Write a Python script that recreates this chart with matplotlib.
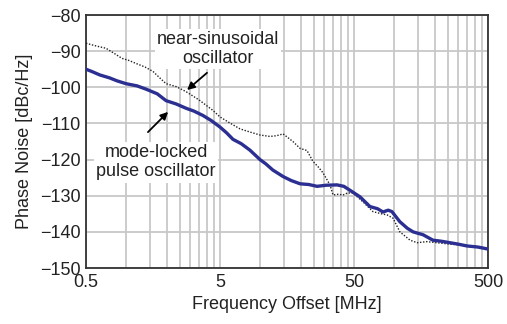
import matplotlib
matplotlib.use("Agg")
import matplotlib.pyplot as plt
from matplotlib.ticker import FixedLocator, NullFormatter

plt.rcParams['font.family'] = ['Liberation Sans', 'DejaVu Sans']

# mode-locked pulse oscillator (blue trace)
pulse_f = [0.5, 0.55, 0.636, 0.75, 0.85, 0.994, 1.2, 1.40, 1.7, 1.98, 2.35,
           2.79, 3.2, 3.73, 4.3, 5.0, 5.6, 6.25, 7.2, 8.37, 9.94, 11.0, 12.4,
           14.8, 17.0, 19.8, 23.0, 26.5, 31.0, 37.3, 42.0, 46.7, 55.4, 65.8,
           75.0, 82.3, 90.0, 96, 110, 125, 138, 164, 194, 225, 260, 300, 349,
           420, 491]
pulse_pn = [-95.0, -95.6, -96.6, -97.4, -98.2, -99.0, -99.6, -100.5, -101.8,
            -103.7, -104.6, -105.8, -106.6, -107.8, -109.2, -111.0, -112.6,
            -114.4, -115.6, -117.4, -120.0, -121.2, -122.9, -124.7, -125.8,
            -126.7, -126.9, -127.4, -127.1, -127.0, -127.4, -128.5, -130.3,
            -133.0, -133.6, -134.5, -134.0, -134.4, -137.2, -139.0, -140.0,
            -140.8, -142.3, -142.6, -143.0, -143.4, -143.9, -144.2, -144.7]

# near-sinusoidal oscillator (black dotted trace)
sine_f = [0.5, 0.6, 0.705, 0.81, 0.928, 1.05, 1.18, 1.38, 1.58, 1.80, 1.98,
          2.35, 2.79, 3.49, 4.43, 5.0, 6.0, 7.05, 8.4, 9.94, 11.8, 13.2, 14.8,
          17.5, 19.8, 22.3, 24.7, 27.0, 29.4, 33.1, 34.9, 38.0, 41.4, 45.0,
          49.2, 58.4, 69.3, 80.0, 88.2, 97.7, 110, 131, 148, 175, 219, 260,
          309, 400, 491]
sine_pn = [-87.8, -88.6, -89.2, -90.6, -92.0, -92.6, -93.4, -94.4, -95.6,
           -97.6, -99.0, -99.8, -101.2, -103.5, -106.4, -108.2, -110.0,
           -111.5, -112.4, -113.2, -113.6, -113.4, -112.9, -115.0, -116.9,
           -117.5, -120.5, -122.0, -123.7, -127.0, -129.8, -129.6, -129.8,
           -129.2, -129.3, -131.7, -134.4, -135.0, -135.3, -136.2, -140.0,
           -142.3, -143.0, -142.7, -143.1, -143.4, -143.6, -144.0, -144.5]

x_major = [0.5, 5, 50, 500]
x_labels = ['0.5', '5', '50', '500']
y_ticks = [-150, -140, -130, -120, -110, -100, -90, -80]

fig = plt.figure(figsize=(5.07, 3.24), dpi=100)
ax = fig.add_axes([0.1696, 0.1728, 0.7929, 0.7809])

ax.plot(sine_f, sine_pn, color='#222222', lw=1.0, ls=(0, (1, 1.2)), zorder=3)
ax.plot(pulse_f, pulse_pn, color='#2b2f91', lw=2.4, zorder=4)

ax.set_xscale('log')
ax.set_xlim(0.5, 500)
ax.set_ylim(-150, -80)
ax.xaxis.set_major_locator(FixedLocator(x_major))
ax.set_xticklabels(x_labels)
minors = [0.5 * k * d for d in (1, 10, 100) for k in range(2, 10)]
ax.xaxis.set_minor_locator(FixedLocator(minors))
ax.xaxis.set_minor_formatter(NullFormatter())
ax.set_yticks(y_ticks)

ax.grid(True, which='both', color='#c8c8c8', lw=1.3, zorder=0)
ax.set_axisbelow(True)
ax.tick_params(which='both', length=0, labelsize=13, colors='#222222', pad=4)
for s in ax.spines.values():
    s.set_color('#333333')
    s.set_linewidth(1.3)

ax.set_xlabel('Frequency Offset [MHz]', fontsize=13, color='#222222', labelpad=4)
ax.set_ylabel('Phase Noise [dBc/Hz]', fontsize=13, color='#222222', labelpad=5)

box = dict(fc='white', ec='none', pad=1.5)
ax.text(4.83, -89.4, 'near-sinusoidal\noscillator', ha='center', va='center',
        fontsize=13, color='#222222', linespacing=1.15, bbox=box, zorder=5)
ax.text(1.67, -120.7, 'mode-locked\npulse oscillator', ha='center', va='center',
        fontsize=13, color='#222222', linespacing=1.2, bbox=box, zorder=5)

arrow = dict(arrowstyle='-|>', color='black', lw=1.3, mutation_scale=11,
             shrinkA=0, shrinkB=0)
ax.annotate('', xy=(2.84, -100.75), xytext=(4.0, -96.0), arrowprops=arrow, zorder=6)
ax.annotate('', xy=(2.05, -106.8), xytext=(1.45, -112.4), arrowprops=arrow, zorder=6)

fig.savefig('out.png', dpi=100)
